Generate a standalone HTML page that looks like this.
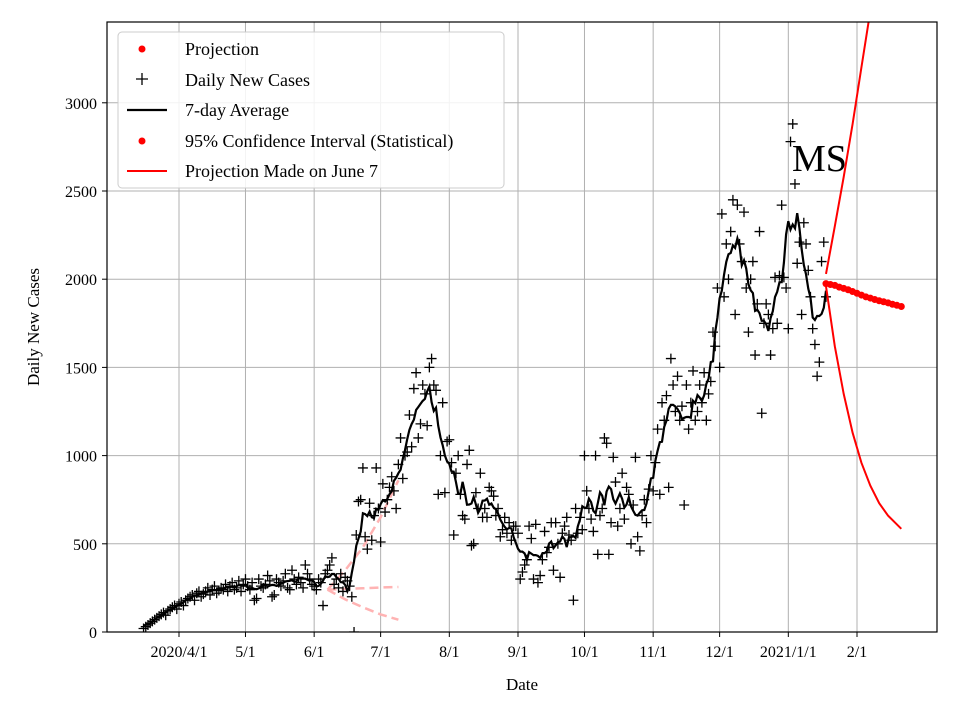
<!DOCTYPE html>
<html><head><meta charset="utf-8"><style>
body{margin:0;background:#fff;}
svg{display:block;font-family:"Liberation Serif",serif;}
</style></head><body>
<svg id="chart" width="960" height="720" viewBox="0 0 960 720" xmlns="http://www.w3.org/2000/svg">
<rect width="960" height="720" fill="#fff"/>
<g id="grid"></g><g id="marks"></g><g id="axes"></g>
</svg>
<script>
const startDay = -16; // days relative to 2020-04-01
const dailyCases = [
20,30,40,50,60,70,80, 90,100,110,95,120,130,140, 150,130,160,170,150,180,190,
200,210,180,220,230,200,215, 230,250,210,240,260,220,235, 250,240,270,230,260,280,240,
250,290,230,270,300,260,240, 280,180,190,300,260,250,270, 320,290,200,210,300,280,260,
290,330,250,240,350,300,270, 310,280,250,380,330,300,270, 260,240,300,280,150,330,350,
380,420,270,300,250,330,230, 310,290,260,200,0,550,740, 750,930,540,470,730,520,660,
930,700,510,840,680,750,820, 880,800,700,950,1100,870,1000, 1020,1230,1050,1380,1470,1100,1180,
1400,1350,1170,1500,1550,1400,1370, 780,1000,1300,790,1080,1090,960, 550,900,1000,780,660,640,950,
1030,490,500,790,700,900,650, 700,650,820,800,770,660,700, 540,580,650,560,620,520,600,
600,560,300,340,380,410,600, 530,300,610,280,320,410,570, 450,480,620,350,620,500,310,
560,600,650,550,520,180,700, 560,650,580,1000,800,700,640, 570,1000,440,660,700,1100,1070,
440,620,990,850,600,700,900, 640,820,780,500,720,990,540, 460,660,750,620,810,1000,800,
960,1150,780,1300,1200,1340,820, 1550,1400,1250,1450,1200,1280,720,
1400,1150,1300,1480,1200,1250,1400,1300,1470,1200,1350,1420,
1700,1620,1950,1500,2370,1900,2200, 2000,2270,2450,1800,2420,2200,2100,
2380,1950,1700,2000,2100,1570,1860,2270, 1240,1750,1860,1800,1570,1720,2010,
1750,2020,2420,2010,1950,1720,2780, 2880,2540,2090,2210,1800,2320,2200,
2050,1900,1720,1630,1450,1530,2100,2210,1900
];
const projDays = [292,294,296,298,300,302,304,306,308,310,312,314,316,318,320,322,324,326];
const projValues = [1975,1970,1965,1955,1948,1940,1930,1920,1910,1900,1893,1885,1878,1872,1866,1858,1852,1845];
const ciDays = [292,296,300,304,308,312,316,320,324,326];
const ciUpper = [2030,2300,2580,2880,3200,3520,3860,4200,4550,4750];
const ciLower = [1960,1620,1350,1130,960,830,730,660,610,585];
const juneDays = [67,75,83,91,99];
const juneUpper = [240,350,480,650,860];
const juneMid = [240,245,248,252,255];
const juneLower = [240,185,140,100,70];
const xTickDays = [0,30,61,91,122,153,183,214,244,275,306];
const xTickLabels = ["2020/4/1","5/1","6/1","7/1","8/1","9/1","10/1","11/1","12/1","2021/1/1","2/1"];
const yTicks = [0,500,1000,1500,2000,2500,3000];

const L=107,R=937,T=22,B=632;
const xDay=d=>179+d*2.2157;
const yVal=v=>B-v*(B-T)/3458;
const NS="http://www.w3.org/2000/svg";
function mk(tag,attrs,parent){const e=document.createElementNS(NS,tag);for(const k in attrs)e.setAttribute(k,attrs[k]);parent.appendChild(e);return e;}
const grid=document.getElementById('grid'),marks=document.getElementById('marks'),axes=document.getElementById('axes');

xTickDays.forEach((d,i)=>{
  const x=xDay(d);
  const g=mk('line',{x1:x,x2:x,y1:T,y2:B,stroke:'#b0b0b0','stroke-width':1},grid);
  
  
  mk('line',{x1:x,x2:x,y1:B,y2:B+5,stroke:'#000','stroke-width':1},axes);
  const t=mk('text',{x:x,y:B+25,'text-anchor':'middle','font-size':16},axes);
  t.textContent=xTickLabels[i];
  
  
});
yTicks.forEach(v=>{
  const y=yVal(v);
  const g=mk('line',{x1:L,x2:R,y1:y,y2:y,stroke:'#b0b0b0','stroke-width':1},grid);
  
  
  mk('line',{x1:L-5,x2:L,y1:y,y2:y,stroke:'#000','stroke-width':1},axes);
  const t=mk('text',{x:L-10,y:y+6,'text-anchor':'end','font-size':16},axes);
  t.textContent=v;
  
  
});

function path(days,vals,attrs,name){
  const d=days.map((dd,i)=>(i?'L':'M')+xDay(dd).toFixed(1)+','+yVal(vals[i]).toFixed(1)).join('');
  const p=mk('path',Object.assign({d:d,fill:'none'},attrs),marks);
  
  
}
const pink={stroke:'#ffb3b3','stroke-width':2.5,'stroke-dasharray':'9,5'};
path(juneDays,juneUpper,pink,'june-projection-upper');
path(juneDays,juneMid,pink,'june-projection-mid');
path(juneDays,juneLower,pink,'june-projection-lower');

const dayIdx=dailyCases.map((v,i)=>startDay+i);
dailyCases.forEach((v,i)=>{
  const x=xDay(dayIdx[i]),y=yVal(v);
  const p=mk('path',{d:`M${x-5},${y}H${x+5}M${x},${y-5}V${y+5}`,stroke:'#000','stroke-width':1.3},marks);
  
  
});
const avg=dailyCases.map((v,i)=>{const s=dailyCases.slice(Math.max(0,i-3),i+4);return s.reduce((a,b)=>a+b,0)/s.length;});
path(dayIdx,avg,{stroke:'#000','stroke-width':2.2},'seven-day-average-line');
path(ciDays,ciUpper,{stroke:'#ff0000','stroke-width':2},'ci-upper-line');
path(ciDays,ciLower,{stroke:'#ff0000','stroke-width':2},'ci-lower-line');
projDays.forEach((d,i)=>{
  const c=mk('circle',{cx:xDay(d),cy:yVal(projValues[i]),r:3.5,fill:'#ff0000'},marks);
  
  
});
</script>
<svg style="position:absolute;left:0;top:0" width="960" height="720" xmlns="http://www.w3.org/2000/svg" font-family="Liberation Serif, serif">
<rect x="107" y="22" width="830" height="610" fill="none" stroke="#000" stroke-width="1.2"/>
<text x="792" y="171" font-size="38">MS</text>
<text x="522" y="690" text-anchor="middle" font-size="17">Date</text>
<text transform="translate(39,327) rotate(-90)" text-anchor="middle" font-size="17">Daily New Cases</text>
<g>
<rect x="118" y="32" width="386" height="156" rx="4" fill="#fff" fill-opacity="0.85" stroke="#ccc"/>
<circle cx="142" cy="49" r="3.5" fill="#f00"/>
<text x="185" y="55" font-size="18">Projection</text>
<path d="M136,79H148M142,73V85" stroke="#000" stroke-width="1.3"/>
<text x="185" y="86" font-size="18">Daily New Cases</text>
<line x1="127" x2="167" y1="110" y2="110" stroke="#000" stroke-width="2.2"/>
<text x="185" y="116" font-size="18">7-day Average</text>
<circle cx="142" cy="141" r="3.5" fill="#f00"/>
<text x="185" y="147" font-size="18">95% Confidence Interval (Statistical)</text>
<line x1="127" x2="167" y1="171" y2="171" stroke="#f00" stroke-width="2"/>
<text x="185" y="177" font-size="18">Projection Made on June 7</text>
</g>
</svg>
<script>
(function(){const s=document.getElementById('chart');const NS="http://www.w3.org/2000/svg";
const d=document.createElementNS(NS,'defs');d.innerHTML='<clipPath id="pc"><rect x="107" y="22" width="830" height="610"/></clipPath>';s.insertBefore(d,s.firstChild);
document.getElementById('marks').setAttribute('clip-path','url(#pc)');})();
</script>
</body></html>
